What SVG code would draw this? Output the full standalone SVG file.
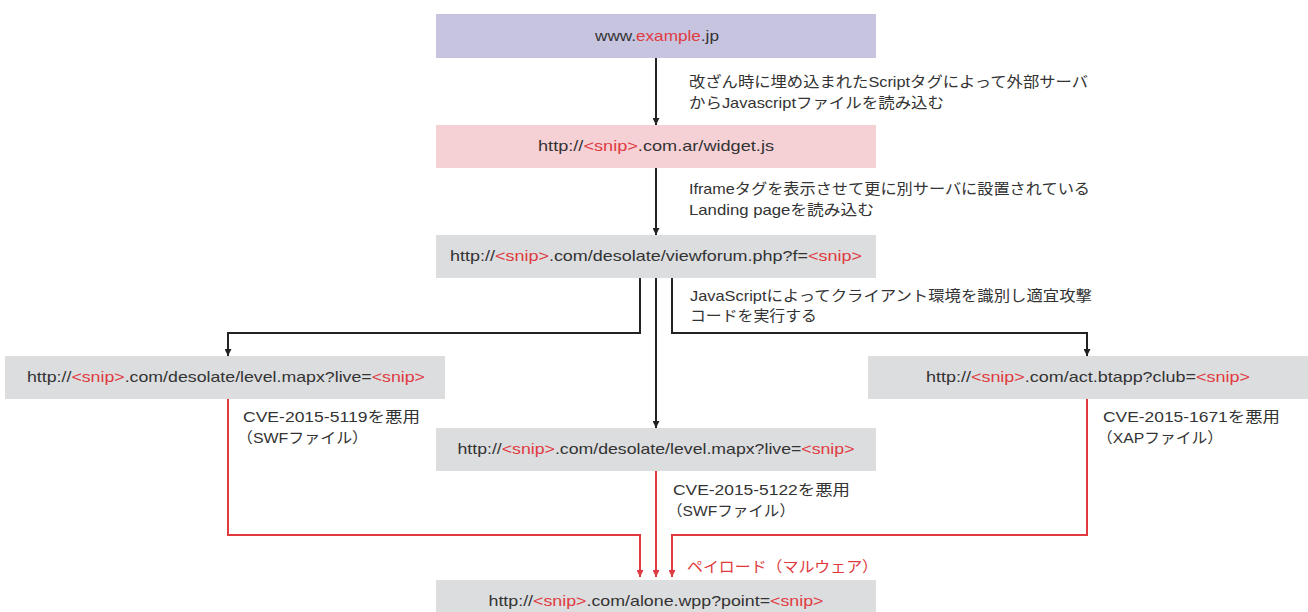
<svg xmlns="http://www.w3.org/2000/svg" width="1308" height="612" viewBox="0 0 1308 612">
<defs>
<style>
text{font-family:"Liberation Sans","Noto Sans CJK JP",sans-serif;font-size:15px;fill:#333}
.u{text-anchor:middle}
.r{fill:#e03a3e}
.k{fill:none;stroke:#222;stroke-width:2}
.rl{fill:none;stroke:#e03a3e;stroke-width:2}
</style>
<marker id="ak" viewBox="0 0 10 10" refX="10" refY="5" markerWidth="11" markerHeight="7" orient="auto" markerUnits="userSpaceOnUse"><path d="M0,0L10,5L0,10z" fill="#222"/></marker>
<marker id="ar" viewBox="0 0 10 10" refX="10" refY="5" markerWidth="11" markerHeight="7" orient="auto" markerUnits="userSpaceOnUse"><path d="M0,0L10,5L0,10z" fill="#e03a3e"/></marker>
</defs>
<rect width="1308" height="612" fill="#fff"/>
<g id="connectors">
<path class="k" d="M656,58V125" marker-end="url(#ak)"/>
<path class="k" d="M656,168V235" marker-end="url(#ak)"/>
<path class="k" d="M640,278V333H228V356" marker-end="url(#ak)"/>
<path class="k" d="M656,278V428" marker-end="url(#ak)"/>
<path class="k" d="M672,278V333H1087V356" marker-end="url(#ak)"/>
<path class="rl" d="M228,399V535H640V577" marker-end="url(#ar)"/>
<path class="rl" d="M656,471V577" marker-end="url(#ar)"/>
<path class="rl" d="M1087,399V535H672V577" marker-end="url(#ar)"/>
</g>
<g id="n1"><rect x="436" y="14" width="440" height="44" fill="#c7c4e0"/><text class="u" x="657" y="41" textLength="124" lengthAdjust="spacingAndGlyphs">www.<tspan class="r">example</tspan>.jp</text></g>
<g id="n2"><rect x="436" y="125" width="440" height="43" fill="#f5d1d6"/><text class="u" x="656" y="151" textLength="236" lengthAdjust="spacingAndGlyphs">http://<tspan class="r">&lt;snip&gt;</tspan>.com.ar/widget.js</text></g>
<g id="n3"><rect x="436" y="235" width="440" height="43" fill="#dcdddf"/><text class="u" x="656" y="261" textLength="412" lengthAdjust="spacingAndGlyphs">http://<tspan class="r">&lt;snip&gt;</tspan>.com/desolate/viewforum.php?f=<tspan class="r">&lt;snip&gt;</tspan></text></g>
<g id="n4"><rect x="5" y="356" width="440" height="43" fill="#dcdddf"/><text class="u" x="226" y="382" textLength="398" lengthAdjust="spacingAndGlyphs">http://<tspan class="r">&lt;snip&gt;</tspan>.com/desolate/level.mapx?live=<tspan class="r">&lt;snip&gt;</tspan></text></g>
<g id="n5"><rect x="868" y="356" width="440" height="43" fill="#dcdddf"/><text class="u" x="1088" y="382" textLength="324" lengthAdjust="spacingAndGlyphs">http://<tspan class="r">&lt;snip&gt;</tspan>.com/act.btapp?club=<tspan class="r">&lt;snip&gt;</tspan></text></g>
<g id="n6"><rect x="436" y="428" width="440" height="43" fill="#dcdddf"/><text class="u" x="656" y="454" textLength="397" lengthAdjust="spacingAndGlyphs">http://<tspan class="r">&lt;snip&gt;</tspan>.com/desolate/level.mapx?live=<tspan class="r">&lt;snip&gt;</tspan></text></g>
<g id="n7"><rect x="436" y="580" width="440" height="32" fill="#dcdddf"/><text class="u" x="656" y="606" textLength="335" lengthAdjust="spacingAndGlyphs">http://<tspan class="r">&lt;snip&gt;</tspan>.com/alone.wpp?point=<tspan class="r">&lt;snip&gt;</tspan></text></g>
<g id="labels">
<text x="689" y="87" textLength="399" lengthAdjust="spacingAndGlyphs">改ざん時に埋め込まれたScriptタグによって外部サーバ</text>
<text x="689" y="108" textLength="255" lengthAdjust="spacingAndGlyphs">からJavascriptファイルを読み込む</text>
<text x="689" y="194" textLength="401" lengthAdjust="spacingAndGlyphs">Iframeタグを表示させて更に別サーバに設置されている</text>
<text x="689" y="215" textLength="185" lengthAdjust="spacingAndGlyphs">Landing pageを読み込む</text>
<text x="690" y="301" textLength="402" lengthAdjust="spacingAndGlyphs">JavaScriptによってクライアント環境を識別し適宜攻撃</text>
<text x="690" y="321" textLength="127" lengthAdjust="spacingAndGlyphs">コードを実行する</text>
<text x="243" y="422" textLength="177" lengthAdjust="spacingAndGlyphs">CVE-2015-5119を悪用</text>
<text x="237" y="443" textLength="131" lengthAdjust="spacingAndGlyphs">（SWFファイル）</text>
<text x="1103" y="422" textLength="177" lengthAdjust="spacingAndGlyphs">CVE-2015-1671を悪用</text>
<text x="1097" y="443" textLength="126" lengthAdjust="spacingAndGlyphs">（XAPファイル）</text>
<text x="673" y="495" textLength="177" lengthAdjust="spacingAndGlyphs">CVE-2015-5122を悪用</text>
<text x="667" y="516" textLength="128" lengthAdjust="spacingAndGlyphs">（SWFファイル）</text>
<text x="687" y="572" textLength="191" lengthAdjust="spacingAndGlyphs" class="r">ペイロード（マルウェア）</text>
</g>
</svg>
